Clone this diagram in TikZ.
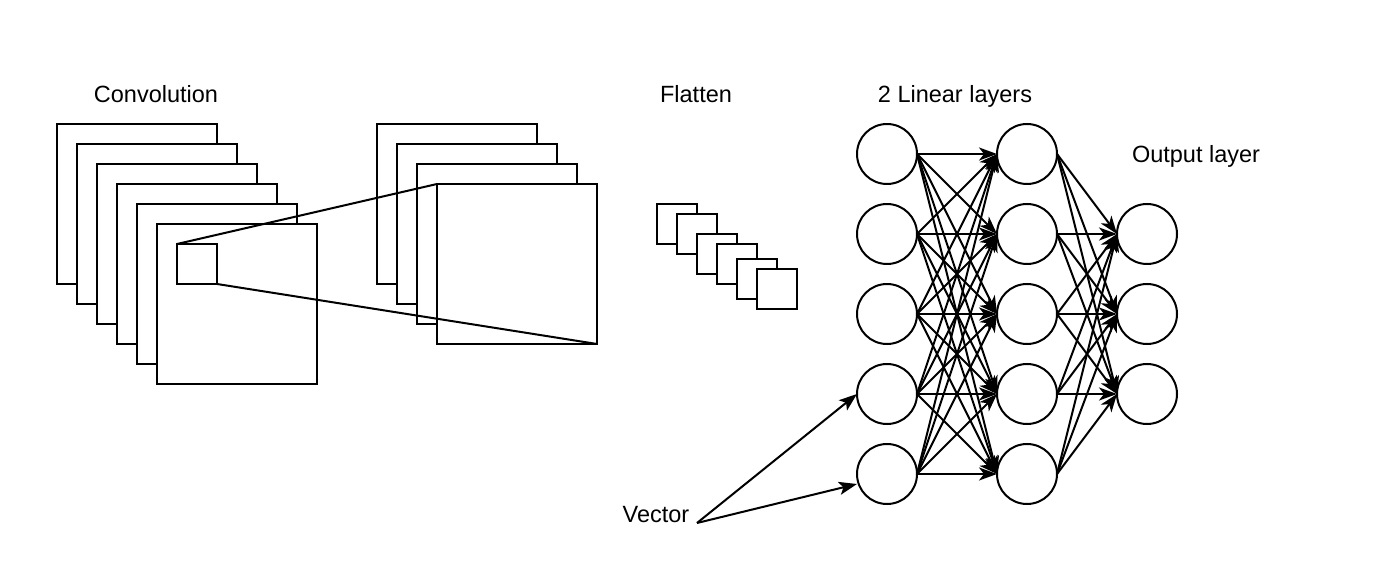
\documentclass[tikz,border=0pt]{standalone}
\usepackage{fontspec}
\setmainfont{Liberation Sans}
\usetikzlibrary{arrows.meta}
\begin{document}
\begin{tikzpicture}[x=1pt,y=-1pt,
  sq/.style={draw=black,fill=white,line width=2pt,minimum size=#1,inner sep=0pt,outer sep=0pt},
  neuron/.style={draw=black,fill=white,circle,line width=2pt,minimum size=60pt,inner sep=0pt,outer sep=0pt},
  label/.style={font=\fontsize{23.5}{28}\selectfont,inner sep=0pt,anchor=base},
  link/.style={line width=2pt,-{Stealth[length=18pt,width=13pt,inset=5pt]}},
  plain/.style={line width=2pt}]
\useasboundingbox[fill=white] (0,0) rectangle (1377,569);

% first convolution stack
\foreach \i in {0,...,5}
  \node[sq=160pt] (a\i) at (137+20*\i,204+20*\i) {};
\node[sq=40pt] (kern) at (197,264) {};

% second convolution stack
\foreach \i in {0,...,3}
  \node[sq=160pt] (b\i) at (457+20*\i,204+20*\i) {};

% receptive field lines
\draw[plain] (kern.north west) -- (b3.north west);
\draw[plain] (kern.south east) -- (b3.south east);

% flattened maps
\node[sq=40pt] (f0) at (677,224) {};
\node[sq=40pt] (f1) at (697,234) {};
\node[sq=40pt] (f2) at (717,254) {};
\node[sq=40pt] (f3) at (737,264) {};
\node[sq=40pt] (f4) at (757,279) {};
\node[sq=40pt] (f5) at (777,289) {};

% neurons
\foreach \j in {1,...,5} {
  \node[neuron] (h\j) at (887,74+80*\j) {};
  \node[neuron] (g\j) at (1027,74+80*\j) {};
}
\foreach \k in {1,...,3}
  \node[neuron] (o\k) at (1147,154+80*\k) {};

% connections
\foreach \j in {1,...,5}
  \foreach \k in {1,...,5}
    \draw[link] (h\j.east) -- (g\k.west);
\foreach \j in {1,...,5}
  \foreach \k in {1,...,3}
    \draw[link] (g\j.east) -- (o\k.west);

% labels
\node[label] (tconv) at (156,102.5) {Convolution};
\node[label] (tflat) at (696,102.5) {Flatten};
\node[label] (tlin) at (955,102.5) {2 Linear layers};
\node[label] (tout) at (1196,162.5) {Output layer};
\node[label] (tvec) at (656,522.5) {Vector};

% input vector arrows
\coordinate (vs) at (697,523);
\draw[line width=2pt,-{Stealth[length=18pt,width=13pt,inset=4pt]}] (vs) -- (h4.west);
\draw[line width=2pt,-{Stealth[length=18pt,width=13pt,inset=4pt]}] (vs) -- ([yshift=-10pt]h5.west);
\end{tikzpicture}
\end{document}
